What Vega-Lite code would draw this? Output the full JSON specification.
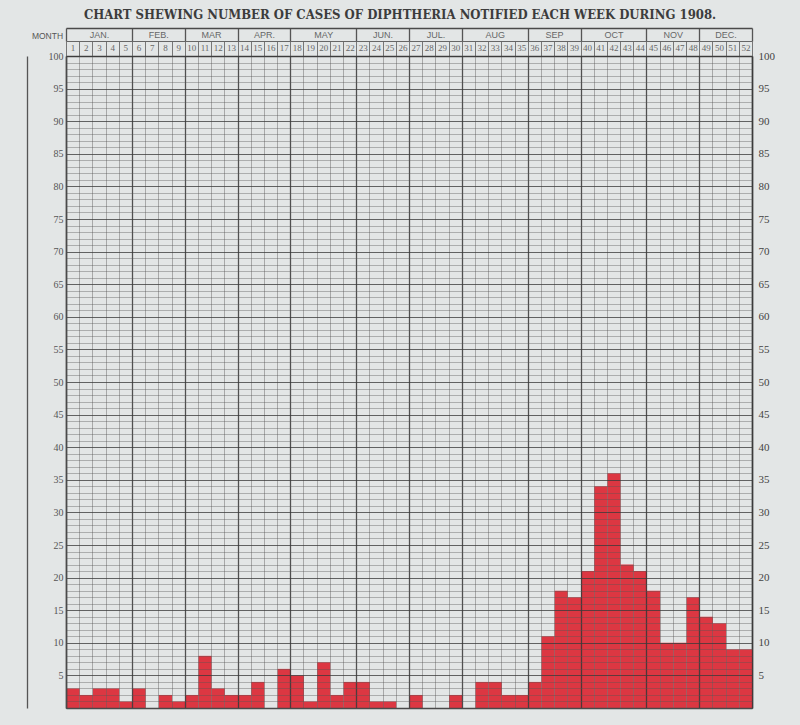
{
  "$schema": "https://vega.github.io/schema/vega-lite/v6.json",
  "width": 686,
  "height": 652,
  "autosize": {"type": "none"},
  "padding": {"left": 66, "top": 56, "right": 48, "bottom": 17},
  "background": "#e3e6e6",
  "title": {
    "text": "CHART SHEWING NUMBER OF CASES OF DIPHTHERIA NOTIFIED EACH WEEK DURING 1908.",
    "font": "DejaVu Serif Condensed, DejaVu Serif",
    "fontWeight": "bold",
    "fontSize": 13,
    "color": "#3c3c3c",
    "anchor": "middle",
    "frame": "group",
    "offset": 5,
    "dx": -9
  },
  "config": {"view": {"stroke": null}},
  "data": {
    "values": [
      {"week": 1, "month": "JAN.", "cases": 3},
      {"week": 2, "month": "JAN.", "cases": 2},
      {"week": 3, "month": "JAN.", "cases": 3},
      {"week": 4, "month": "JAN.", "cases": 3},
      {"week": 5, "month": "JAN.", "cases": 1},
      {"week": 6, "month": "FEB.", "cases": 3},
      {"week": 7, "month": "FEB.", "cases": 0},
      {"week": 8, "month": "FEB.", "cases": 2},
      {"week": 9, "month": "FEB.", "cases": 1},
      {"week": 10, "month": "MAR", "cases": 2},
      {"week": 11, "month": "MAR", "cases": 8},
      {"week": 12, "month": "MAR", "cases": 3},
      {"week": 13, "month": "MAR", "cases": 2},
      {"week": 14, "month": "APR.", "cases": 2},
      {"week": 15, "month": "APR.", "cases": 4},
      {"week": 16, "month": "APR.", "cases": 0},
      {"week": 17, "month": "APR.", "cases": 6},
      {"week": 18, "month": "MAY", "cases": 5},
      {"week": 19, "month": "MAY", "cases": 1},
      {"week": 20, "month": "MAY", "cases": 7},
      {"week": 21, "month": "MAY", "cases": 2},
      {"week": 22, "month": "MAY", "cases": 4},
      {"week": 23, "month": "JUN.", "cases": 4},
      {"week": 24, "month": "JUN.", "cases": 1},
      {"week": 25, "month": "JUN.", "cases": 1},
      {"week": 26, "month": "JUN.", "cases": 0},
      {"week": 27, "month": "JUL.", "cases": 2},
      {"week": 28, "month": "JUL.", "cases": 0},
      {"week": 29, "month": "JUL.", "cases": 0},
      {"week": 30, "month": "JUL.", "cases": 2},
      {"week": 31, "month": "AUG", "cases": 0},
      {"week": 32, "month": "AUG", "cases": 4},
      {"week": 33, "month": "AUG", "cases": 4},
      {"week": 34, "month": "AUG", "cases": 2},
      {"week": 35, "month": "AUG", "cases": 2},
      {"week": 36, "month": "SEP", "cases": 4},
      {"week": 37, "month": "SEP", "cases": 11},
      {"week": 38, "month": "SEP", "cases": 18},
      {"week": 39, "month": "SEP", "cases": 17},
      {"week": 40, "month": "OCT", "cases": 21},
      {"week": 41, "month": "OCT", "cases": 34},
      {"week": 42, "month": "OCT", "cases": 36},
      {"week": 43, "month": "OCT", "cases": 22},
      {"week": 44, "month": "OCT", "cases": 21},
      {"week": 45, "month": "NOV", "cases": 18},
      {"week": 46, "month": "NOV", "cases": 10},
      {"week": 47, "month": "NOV", "cases": 10},
      {"week": 48, "month": "NOV", "cases": 17},
      {"week": 49, "month": "DEC.", "cases": 14},
      {"week": 50, "month": "DEC.", "cases": 13},
      {"week": 51, "month": "DEC.", "cases": 9},
      {"week": 52, "month": "DEC.", "cases": 9}
    ]
  },
  "layer": [
    {
      "mark": {"type": "bar", "color": "#dc3742", "binSpacing": 0},
      "encoding": {
        "x": {
          "field": "week", "type": "quantitative",
          "bin": {"step": 1, "anchor": 0.5, "extent": [0.5, 52.5], "nice": false},
          "scale": {"domain": [0.5, 52.5], "nice": false, "zero": false},
          "axis": {
            "orient": "bottom",
            "values": [0.5,1.5,2.5,3.5,4.5,5.5,6.5,7.5,8.5,9.5,10.5,11.5,12.5,13.5,14.5,15.5,16.5,17.5,18.5,19.5,20.5,21.5,22.5,23.5,24.5,25.5,26.5,27.5,28.5,29.5,30.5,31.5,32.5,33.5,34.5,35.5,36.5,37.5,38.5,39.5,40.5,41.5,42.5,43.5,44.5,45.5,46.5,47.5,48.5,49.5,50.5,51.5,52.5],
            "grid": true, "gridColor": "#555", "gridOpacity": 0.42, "gridWidth": 1,
            "labels": false, "ticks": false, "domain": false, "title": null, "zindex": 1
          }
        },
        "y": {
          "field": "cases", "type": "quantitative",
          "scale": {"domain": [0, 100], "nice": false},
          "axis": {
            "orient": "left", "tickCount": 100,
            "grid": true, "gridColor": "#555", "gridOpacity": 0.38, "gridWidth": 1,
            "labels": false, "ticks": false, "domain": false, "title": null, "zindex": 1
          }
        }
      }
    },
    {
      "mark": {"type": "point", "opacity": 0},
      "encoding": {
        "x": {
          "field": "week", "type": "quantitative",
          "scale": {"domain": [0.5, 52.5], "nice": false, "zero": false},
          "axis": {
            "orient": "bottom",
            "values": [0.5,5.5,9.5,13.5,17.5,22.5,26.5,30.5,35.5,39.5,44.5,48.5,52.5],
            "grid": true, "gridColor": "#333", "gridOpacity": 0.75, "gridWidth": 1.3,
            "labels": false, "ticks": false,
            "domain": true, "domainColor": "#4a4a4a", "domainWidth": 1.6,
            "title": null, "zindex": 1
          }
        },
        "y": {
          "field": "cases", "type": "quantitative",
          "scale": {"domain": [0, 100], "nice": false},
          "axis": {
            "orient": "left", "tickCount": 20,
            "grid": true, "gridColor": "#333", "gridOpacity": 0.62, "gridWidth": 1.2,
            "labelExpr": "datum.value == 0 ? '' : datum.label",
            "labelFont": "Liberation Serif", "labelFontSize": 10, "labelColor": "#555",
            "labelPadding": 3, "ticks": false,
            "domain": true, "domainColor": "#4a4a4a", "domainWidth": 1.6,
            "title": "MONTH", "titleAngle": 0, "titleX": -19, "titleY": -21,
            "titleAlign": "center", "titleBaseline": "middle",
            "titleFont": "Liberation Sans", "titleFontSize": 8.5, "titleFontWeight": "normal", "titleColor": "#555",
            "zindex": 1
          }
        }
      }
    },
    {
      "mark": {"type": "point", "opacity": 0},
      "encoding": {
        "x": {
          "field": "week", "type": "quantitative",
          "scale": {"domain": [0.5, 52.5], "nice": false, "zero": false},
          "axis": {
            "orient": "top",
            "values": [1,2,3,4,5,6,7,8,9,10,11,12,13,14,15,16,17,18,19,20,21,22,23,24,25,26,27,28,29,30,31,32,33,34,35,36,37,38,39,40,41,42,43,44,45,46,47,48,49,50,51,52],
            "labelFont": "Liberation Serif", "labelFontSize": 9, "labelColor": "#666",
            "labelPadding": 4, "labelFlush": false, "labelOverlap": false,
            "ticks": false, "domain": false, "grid": false, "title": null
          }
        },
        "y": {
          "field": "cases", "type": "quantitative",
          "scale": {"domain": [0, 100], "nice": false},
          "axis": {
            "orient": "right", "tickCount": 20,
            "labelExpr": "datum.value == 0 ? '' : datum.label",
            "labelFont": "Liberation Serif", "labelFontSize": 11, "labelColor": "#444",
            "labelPadding": 6, "ticks": false, "grid": false,
            "domain": true, "domainColor": "#4a4a4a", "domainWidth": 1.6, "title": null
          }
        }
      }
    },
    {
      "mark": {"type": "point", "opacity": 0},
      "encoding": {
        "x": {
          "field": "week", "type": "quantitative",
          "scale": {"domain": [0.5, 52.5], "nice": false, "zero": false},
          "axis": {
            "orient": "top",
            "values": [0.5,1.5,2.5,3.5,4.5,5.5,6.5,7.5,8.5,9.5,10.5,11.5,12.5,13.5,14.5,15.5,16.5,17.5,18.5,19.5,20.5,21.5,22.5,23.5,24.5,25.5,26.5,27.5,28.5,29.5,30.5,31.5,32.5,33.5,34.5,35.5,36.5,37.5,38.5,39.5,40.5,41.5,42.5,43.5,44.5,45.5,46.5,47.5,48.5,49.5,50.5,51.5,52.5],
            "labels": false, "ticks": true, "tickSize": 15, "tickColor": "#777", "tickWidth": 1,
            "domain": true, "domainColor": "#4a4a4a", "domainWidth": 1.6,
            "grid": false, "title": null
          }
        },
        "y": {
          "field": "cases", "type": "quantitative",
          "scale": {"domain": [0, 100], "nice": false},
          "axis": {
            "orient": "left", "offset": 39,
            "labels": false, "ticks": false, "grid": false,
            "domain": true, "domainColor": "#555", "domainWidth": 1.3, "title": null
          }
        }
      }
    },
    {
      "mark": {"type": "point", "opacity": 0},
      "encoding": {
        "x": {
          "field": "week", "type": "quantitative",
          "scale": {"domain": [0.5, 52.5], "nice": false, "zero": false},
          "axis": {
            "orient": "top", "offset": 15,
            "values": [0.5,5.5,9.5,13.5,17.5,22.5,26.5,30.5,35.5,39.5,44.5,48.5,52.5],
            "labels": false, "ticks": true, "tickSize": 13, "tickColor": "#555", "tickWidth": 1.3,
            "domain": true, "domainColor": "#666", "domainWidth": 1.1,
            "grid": false, "title": null
          }
        },
        "y": {"field": "cases", "type": "quantitative", "scale": {"domain": [0, 100], "nice": false}, "axis": null}
      }
    },
    {
      "mark": {"type": "point", "opacity": 0},
      "encoding": {
        "x": {
          "field": "week", "type": "quantitative",
          "scale": {"domain": [0.5, 52.5], "nice": false, "zero": false},
          "axis": {
            "orient": "top", "offset": 15,
            "values": [3, 7.5, 11.5, 15.5, 20, 24.5, 28.5, 33, 37.5, 42, 46.5, 50.5],
            "labelExpr": "datum.value == 3 ? 'JAN.' : datum.value == 7.5 ? 'FEB.' : datum.value == 11.5 ? 'MAR' : datum.value == 15.5 ? 'APR.' : datum.value == 20 ? 'MAY' : datum.value == 24.5 ? 'JUN.' : datum.value == 28.5 ? 'JUL.' : datum.value == 33 ? 'AUG' : datum.value == 37.5 ? 'SEP' : datum.value == 42 ? 'OCT' : datum.value == 46.5 ? 'NOV' : 'DEC.'",
            "labelFont": "Liberation Sans", "labelFontSize": 9, "labelColor": "#666",
            "labelPadding": 2, "labelFlush": false, "labelOverlap": false,
            "ticks": false, "domain": false, "grid": false, "title": null
          }
        },
        "y": {"field": "cases", "type": "quantitative", "scale": {"domain": [0, 100], "nice": false}, "axis": null}
      }
    },
    {
      "mark": {"type": "point", "opacity": 0},
      "encoding": {
        "x": {
          "field": "week", "type": "quantitative",
          "scale": {"domain": [0.5, 52.5], "nice": false, "zero": false},
          "axis": {
            "orient": "top", "offset": 28,
            "labels": false, "ticks": false, "grid": false,
            "domain": true, "domainColor": "#4a4a4a", "domainWidth": 1.6, "title": null
          }
        },
        "y": {"field": "cases", "type": "quantitative", "scale": {"domain": [0, 100], "nice": false}, "axis": null}
      }
    }
  ],
  "resolve": {"axis": {"x": "independent", "y": "independent"}}
}
